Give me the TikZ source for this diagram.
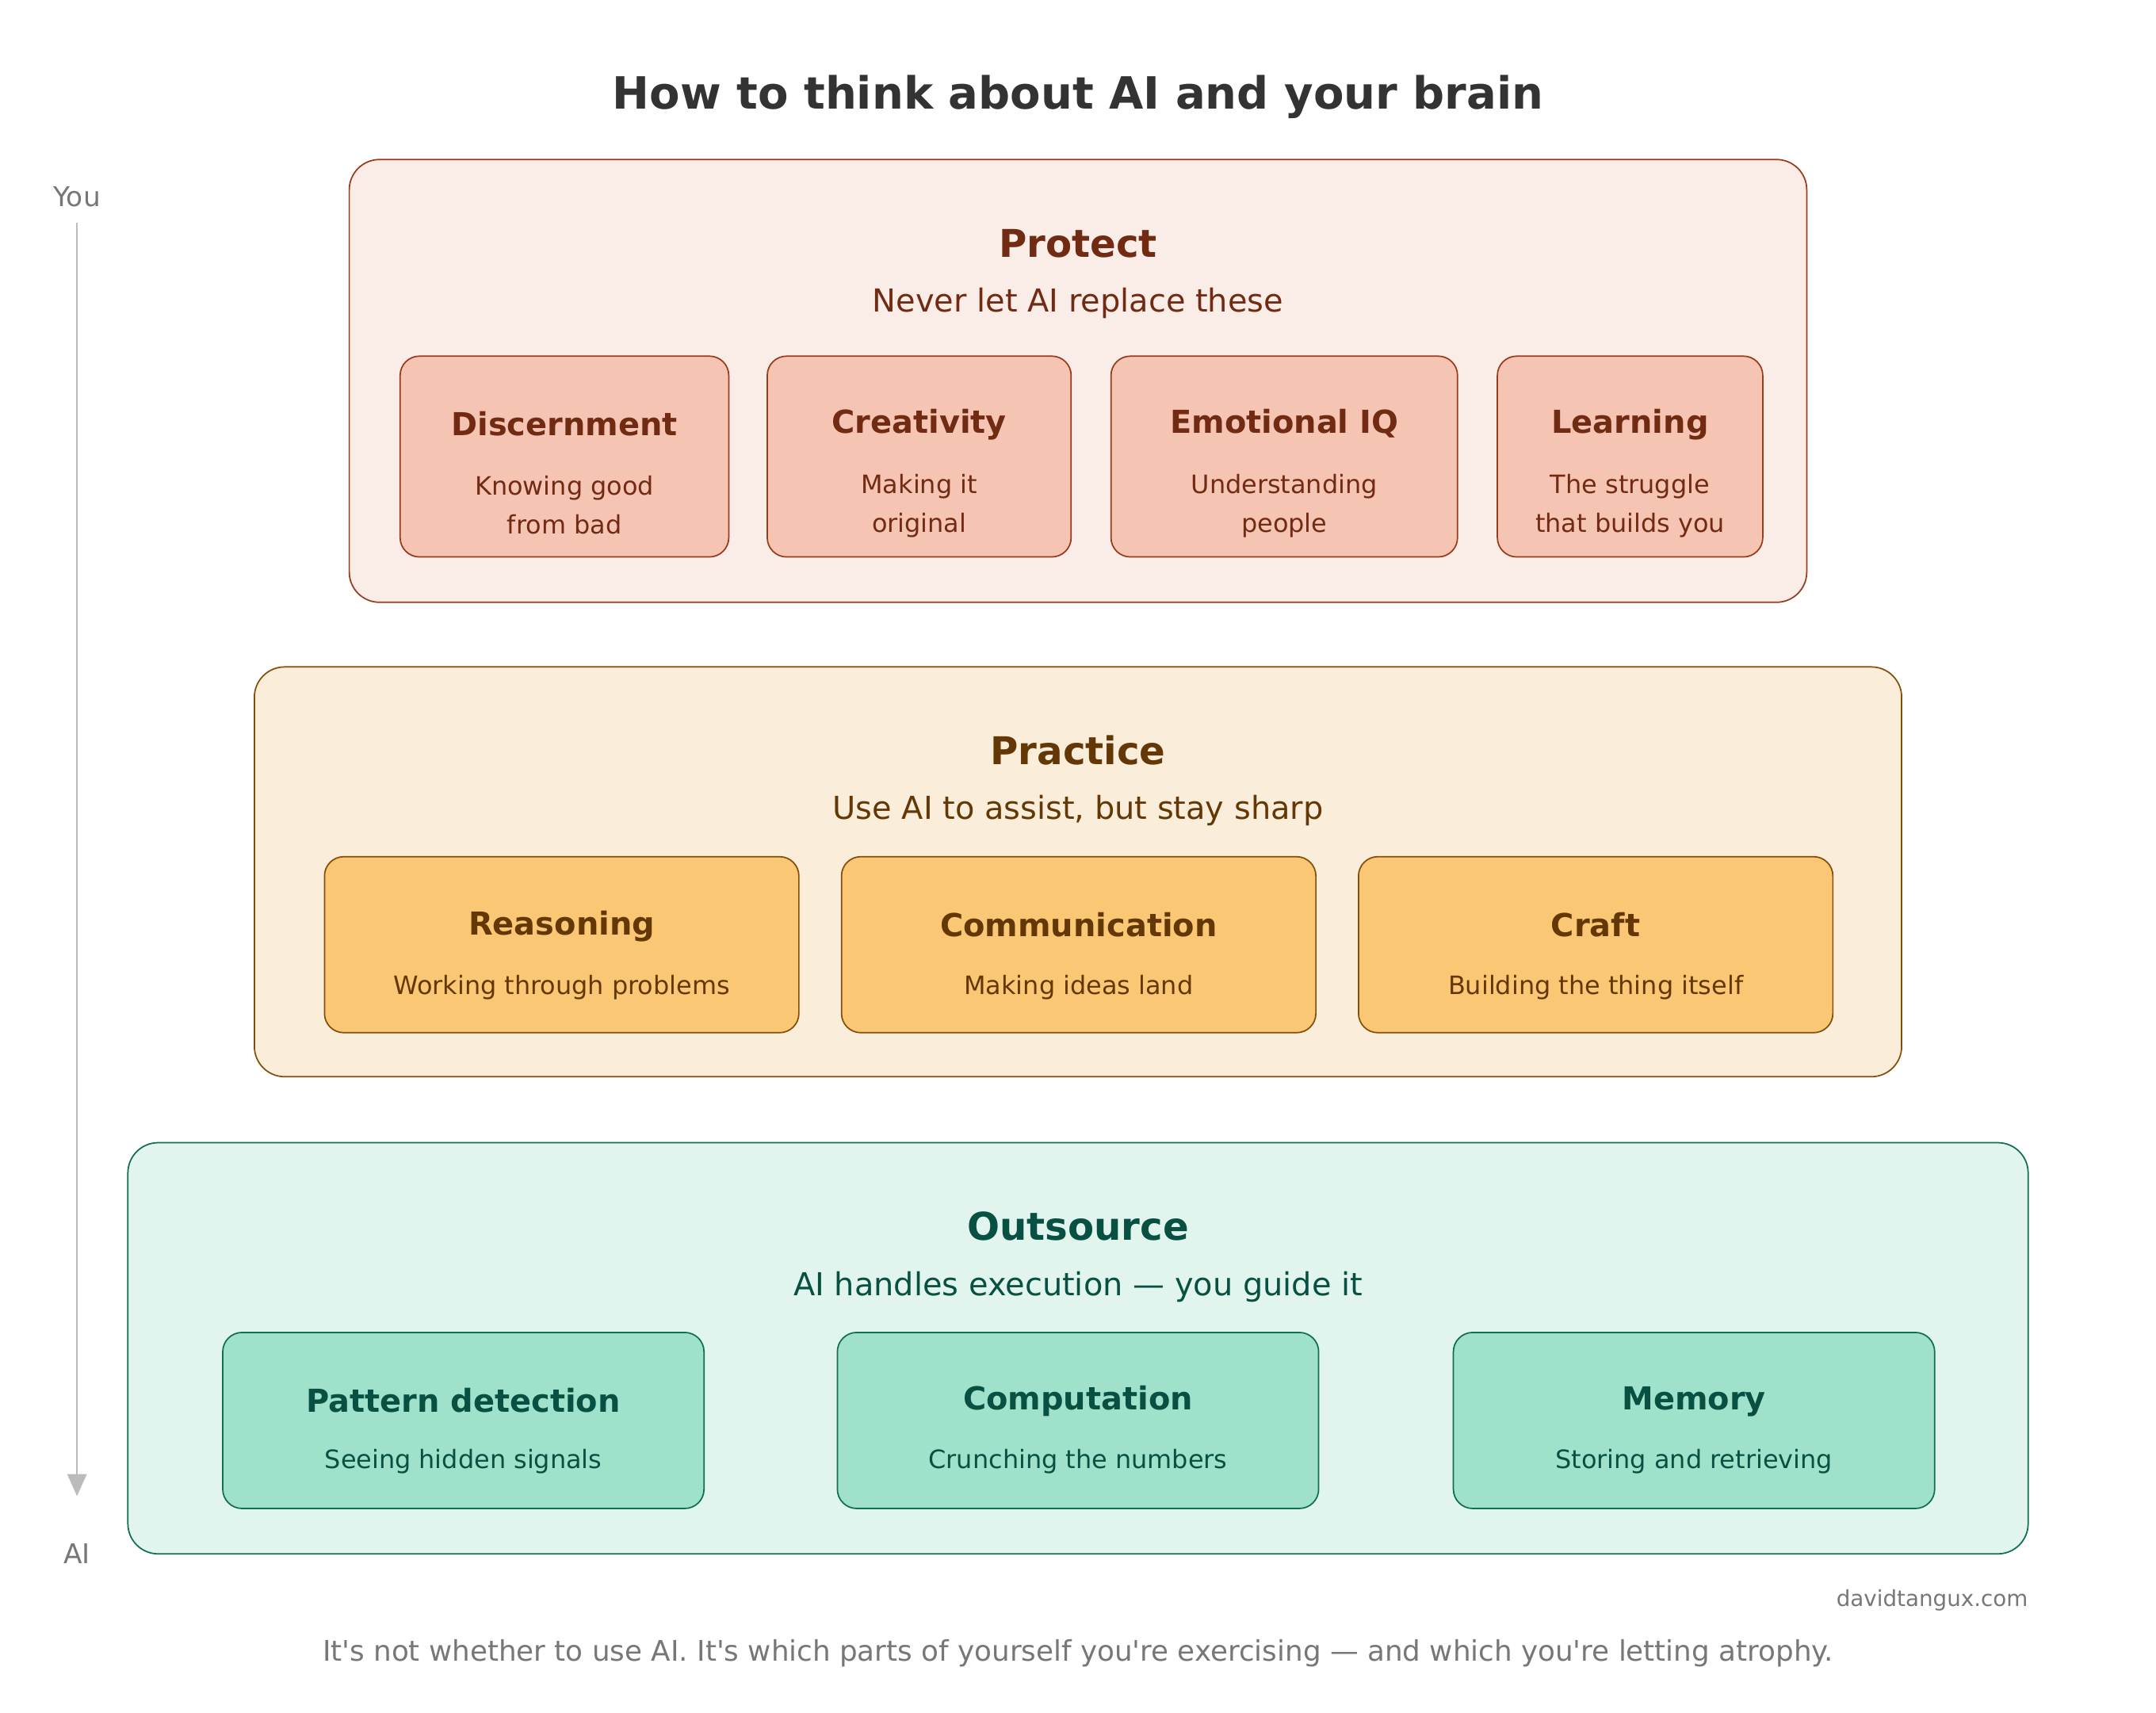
\documentclass[tikz,border=0pt]{standalone}
\usepackage{fontspec}
\setmainfont{DejaVu Sans}[Ligatures=TeXOff]
\usetikzlibrary{arrows.meta}
\definecolor{coralL}{HTML}{FAECE7}
\definecolor{coralM}{HTML}{F5C4B3}
\definecolor{coralS}{HTML}{993C1D}
\definecolor{coralT}{HTML}{712B13}
\definecolor{amberL}{HTML}{FAEEDA}
\definecolor{amberM}{HTML}{FAC775}
\definecolor{amberS}{HTML}{854F0B}
\definecolor{amberT}{HTML}{633806}
\definecolor{tealL}{HTML}{E1F5EE}
\definecolor{tealM}{HTML}{9FE1CB}
\definecolor{tealS}{HTML}{0F6E56}
\definecolor{tealT}{HTML}{085041}
\definecolor{titleC}{HTML}{333333}
\definecolor{grayT}{HTML}{777777}
\definecolor{arrowC}{HTML}{BBBBBB}
\tikzset{
  box/.style={rectangle, draw, line width=1pt, inner sep=0pt},
  outerbox/.style={box, rounded corners=22pt},
  innerbox/.style={box, rounded corners=14pt},
  txt/.style={inner sep=0pt, anchor=base},
  bandtitle/.style={txt, font=\bfseries\fontsize{27.8}{34}\selectfont},
  bandsub/.style={txt, font=\fontsize{23}{27}\selectfont},
  cardtitle/.style={txt, font=\bfseries\fontsize{23}{27}\selectfont},
  carddesc/.style={txt, align=center, font=\fontsize{18.4}{28}\selectfont},
}
\begin{document}
\begin{tikzpicture}[x=1pt,y=-1pt]
\useasboundingbox[fill=white] (0,0) rectangle (1568,1245.2);
% title
\node[txt, font=\bfseries\fontsize{32.3}{38}\selectfont, text=titleC] (title) at (784,79.5) {How to think about AI and your brain};
% axis
\node[txt, font=\fontsize{19.8}{23}\selectfont, text=grayT] (you) at (56,150) {You};
\node[txt, font=\fontsize{19.8}{23}\selectfont, text=grayT] (ai) at (56,1137) {AI};
\coordinate (axtop) at (56,162);
\coordinate (axbot) at (56,1088);
\draw[arrowC, line width=1.5pt, -{Triangle[length=16pt,width=14pt]}] (axtop) -- (axbot);
% Protect
\node[outerbox, draw=coralS, fill=coralL, minimum width=1060pt, minimum height=322pt] (protect) at (784,277) {};
\node[bandtitle, text=coralT] (protectT) at (784,187) {Protect};
\node[bandsub, text=coralT] (protectS) at (784,227) {Never let AI replace these};
\node[innerbox, draw=coralS, fill=coralM, minimum width=239pt, minimum height=146pt] (disc) at (410.5,332) {};
\node[innerbox, draw=coralS, fill=coralM, minimum width=221pt, minimum height=146pt] (crea) at (668.5,332) {};
\node[innerbox, draw=coralS, fill=coralM, minimum width=252pt, minimum height=146pt] (emo) at (934,332) {};
\node[innerbox, draw=coralS, fill=coralM, minimum width=193pt, minimum height=146pt] (learn) at (1185.5,332) {};
\node[cardtitle, text=coralT] (discT) at (410.5,317) {Discernment};
\node[cardtitle, text=coralT] (creaT) at (668.5,315) {Creativity};
\node[cardtitle, text=coralT] (emoT) at (934,315) {Emotional IQ};
\node[cardtitle, text=coralT] (learnT) at (1185.5,315) {Learning};
\node[carddesc, text=coralT] (discD) at (410.5,388) {Knowing good\\from bad};
\node[carddesc, text=coralT] (creaD) at (668.5,387) {Making it\\original};
\node[carddesc, text=coralT] (emoD) at (934,387) {Understanding\\people};
\node[carddesc, text=coralT] (learnD) at (1185.5,387) {The struggle\\that builds you};
% Practice
\node[outerbox, draw=amberS, fill=amberL, minimum width=1198pt, minimum height=298pt] (practice) at (784,634) {};
\node[bandtitle, text=amberT] (practiceT) at (784,556) {Practice};
\node[bandsub, text=amberT] (practiceS) at (784,596) {Use AI to assist, but stay sharp};
\node[innerbox, draw=amberS, fill=amberM, minimum width=345pt, minimum height=128pt] (reas) at (408.5,687) {};
\node[innerbox, draw=amberS, fill=amberM, minimum width=345pt, minimum height=128pt] (comm) at (784.5,687) {};
\node[innerbox, draw=amberS, fill=amberM, minimum width=345pt, minimum height=128pt] (craft) at (1160.5,687) {};
\node[cardtitle, text=amberT] (reasT) at (408.5,680) {Reasoning};
\node[cardtitle, text=amberT] (commT) at (784.5,681) {Communication};
\node[cardtitle, text=amberT] (craftT) at (1160.5,681) {Craft};
\node[carddesc, text=amberT] (reasD) at (408.5,723) {Working through problems};
\node[carddesc, text=amberT] (commD) at (784.5,723) {Making ideas land};
\node[carddesc, text=amberT] (craftD) at (1160.5,723) {Building the thing itself};
% Outsource
\node[outerbox, draw=tealS, fill=tealL, minimum width=1382pt, minimum height=299pt] (outsource) at (784,980.5) {};
\node[bandtitle, text=tealT] (outT) at (784,902) {Outsource};
\node[bandsub, text=tealT] (outS) at (784,942) {AI handles execution — you guide it};
\node[innerbox, draw=tealS, fill=tealM, minimum width=350pt, minimum height=128pt] (patt) at (337,1033) {};
\node[innerbox, draw=tealS, fill=tealM, minimum width=350pt, minimum height=128pt] (comp) at (784,1033) {};
\node[innerbox, draw=tealS, fill=tealM, minimum width=350pt, minimum height=128pt] (mem) at (1232,1033) {};
\node[cardtitle, text=tealT] (pattT) at (337,1027) {Pattern detection};
\node[cardtitle, text=tealT] (compT) at (784,1025) {Computation};
\node[cardtitle, text=tealT] (memT) at (1232,1025) {Memory};
\node[carddesc, text=tealT] (pattD) at (337,1068) {Seeing hidden signals};
\node[carddesc, text=tealT] (compD) at (784,1068) {Crunching the numbers};
\node[carddesc, text=tealT] (memD) at (1232,1068) {Storing and retrieving};
% footer
\node[txt, anchor=base east, font=\fontsize{16}{19}\selectfont, text=grayT] (site) at (1475,1168) {davidtangux.com};
\node[txt, font=\fontsize{20.6}{24}\selectfont, text=grayT] (footer) at (784,1208) {It's not whether to use AI. It's which parts of yourself you're exercising — and which you're letting atrophy.};
\end{tikzpicture}
\end{document}
